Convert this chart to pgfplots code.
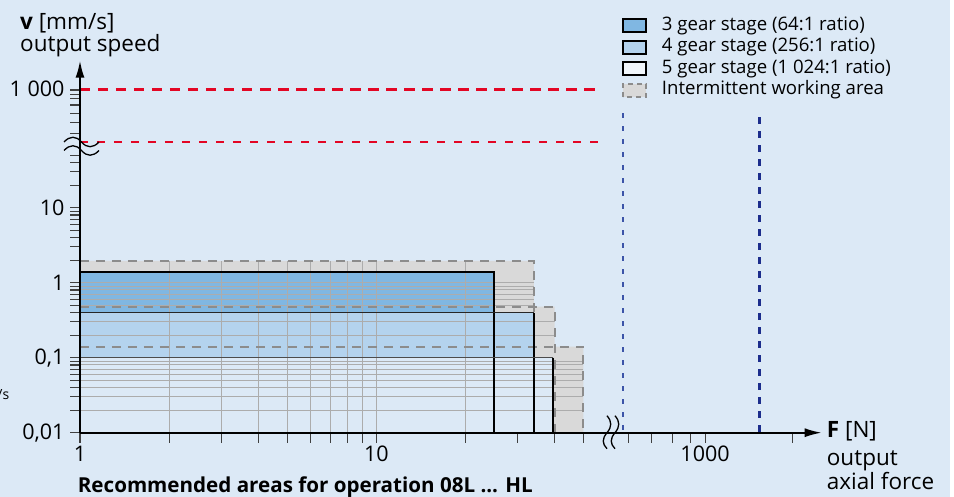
\documentclass[border=0pt]{standalone}
\usepackage{pgfplots}
\pgfplotsset{compat=1.18}
\usepackage{fontspec}
\setmainfont{Open Sans}
\usetikzlibrary{arrows.meta}

\definecolor{bgblue}{RGB}{220,233,246}
\definecolor{gearA}{RGB}{128,183,226}
\definecolor{gearB}{RGB}{180,211,238}
\definecolor{interm}{RGB}{217,217,217}
\definecolor{intermline}{RGB}{140,140,140}
\definecolor{gridc}{RGB}{172,172,172}
\definecolor{redl}{RGB}{227,6,36}
\definecolor{bluethin}{RGB}{60,84,168}
\definecolor{bluethick}{RGB}{28,45,140}

\begin{document}
\begin{tikzpicture}
\fill[bgblue] (-80pt,-64.3pt) rectangle (870pt,432.7pt);
\begin{axis}[
  scale only axis, width=741.7pt, height=372pt,
  xmode=log, ymode=log,
  xmin=1, xmax=318.6, ymin=0.01, ymax=912,
  enlargelimits=false,
  axis lines=left,
  axis on top=true,
  axis line style={line width=1.8pt, -{Latex[length=17pt,width=9pt]}},
  tick align=outside,
  major tick length=10pt, minor tick length=10pt,
  tick style={line width=1.1pt, color=black!75},
  xtick={1,10,128.7}, xticklabels={1,10,1000},
  minor xtick={2,3,4,5,6,7,8,9,20,30,40,50,70.87,85,100.1,115.1,254.3},
  ytick={0.01,0.1,1,10,380}, yticklabels={{0,01},{0,1},1,10,{1 000}},
  minor ytick={0.02,0.03,0.04,0.05,0.06,0.07,0.08,0.09,
    0.2,0.3,0.4,0.5,0.6,0.7,0.8,0.9,2,3,4,5,6,7,8,9,20,30,40,50,
    98,136,181,234,284,325,363},
  ticklabel style={font=\fontsize{21.5}{24}\selectfont},
  yticklabel style={xshift=-2pt},
  legend image code/.code={\draw[#1] (0pt,-6.5pt) rectangle (23pt,6.5pt);},
  legend cell align=left,
  legend style={at={(axis description cs:0.7304,1.1175)}, anchor=north west,
    draw=none, fill=none, inner sep=0pt, row sep=4pt,
    font=\fontsize{18.6}{21}\selectfont,
    nodes={inner sep=0pt, text height=13pt, text depth=4.5pt},
    /tikz/every odd column/.append style={column sep=15pt}},
]
% intermittent working area
\addplot[fill=interm, draw=none, forget plot] coordinates {
  (1,0.01) (1,1.95) (34,1.95) (34,0.48) (40,0.48) (40,0.14) (50,0.14) (50,0.01)} -- cycle;
% continuous areas
\addplot[fill=gearA, draw=none, forget plot] coordinates {(1,0.01) (1,1.4) (25,1.4) (25,0.01)} -- cycle;
\addplot[fill=gearB, draw=none, forget plot] coordinates {(1,0.01) (1,0.4) (34,0.4) (34,0.01)} -- cycle;
\addplot[fill=bgblue, draw=none, forget plot] coordinates {(1,0.01) (1,0.1) (39.6,0.1) (39.6,0.01)} -- cycle;
% grid inside the working area
\pgfplotsinvokeforeach{2,3,4,5,6,7,8,9,10,20}{
  \addplot[gridc, line width=1pt, forget plot] coordinates {(#1,0.01) (#1,1.95)};}
\pgfplotsinvokeforeach{0.02,0.03,0.04,0.05,0.06,0.07,0.08,0.09}{
  \addplot[gridc, line width=1pt, forget plot] coordinates {(1,#1) (50,#1)};}
\pgfplotsinvokeforeach{0.2,0.3}{
  \addplot[gridc, line width=1pt, forget plot] coordinates {(1,#1) (40,#1)};}
\pgfplotsinvokeforeach{0.5,0.6,0.7,0.8,0.9,1}{
  \addplot[gridc, line width=1pt, forget plot] coordinates {(1,#1) (34,#1)};}
% intermittent limits
\addplot[intermline, line width=2pt, dash pattern=on 9pt off 7pt, forget plot] coordinates {(1,1.95) (34,1.95) (34,0.01)};
\addplot[intermline, line width=2pt, dash pattern=on 9pt off 7pt, forget plot] coordinates {(1,0.48) (40,0.48) (40,0.01)};
\addplot[intermline, line width=2pt, dash pattern=on 9pt off 7pt, forget plot] coordinates {(1,0.14) (50,0.14) (50,0.01)};
% continuous limits
\addplot[black, line width=2.2pt, forget plot] coordinates {(1,1.4) (25,1.4) (25,0.01)};
\addplot[black!85, line width=1.6pt, forget plot] coordinates {(1,0.4) (34,0.4)};
\addplot[black, line width=2pt, forget plot] coordinates {(34,0.4) (34,0.01)};
\addplot[black!70, line width=1.3pt, forget plot] coordinates {(1,0.1) (39.6,0.1)};
\addplot[black, line width=2pt, forget plot] coordinates {(39.6,0.1) (39.6,0.01)};
% speed and force limits
\addplot[redl, line width=3pt, dash pattern=on 10.5pt off 7.5pt, forget plot] coordinates {(1,380) (57.5,380)};
\addplot[redl, line width=1.8pt, dash pattern=on 8pt off 9pt, forget plot] coordinates {(1,76) (57.5,76)};
\addplot[bluethin, line width=1.5pt, dash pattern=on 5pt off 8pt, forget plot] coordinates {(67.9,181) (67.9,0.01)};
\addplot[bluethick, line width=3pt, dash pattern=on 7pt off 7pt, forget plot] coordinates {(196.2,160.5) (196.2,0.01)};
% legend
\addlegendimage{fill=gearA, draw=black, line width=2pt}
\addlegendentry{3 gear stage (64:1 ratio)}
\addlegendimage{fill=gearB, draw=black, line width=2pt}
\addlegendentry{4 gear stage (256:1 ratio)}
\addlegendimage{fill=bgblue!40!white, draw=black, line width=2pt}
\addlegendentry{5 gear stage (1 024:1 ratio)}
\addlegendimage{fill=interm, draw=intermline, line width=2pt, dash pattern=on 5pt off 4pt}
\addlegendentry{Intermittent working area}
\end{axis}
% axis breaks
\draw[line width=1.3pt] (-16pt,290.7pt) .. controls (-10pt,297pt) and (-4pt,297pt) .. (1.5pt,290.7pt)
  .. controls (7pt,284.4pt) and (13pt,284.4pt) .. (19pt,290.7pt);
\draw[line width=1.3pt] (-16pt,282.2pt) .. controls (-10pt,288.5pt) and (-4pt,288.5pt) .. (1.5pt,282.2pt)
  .. controls (7pt,275.9pt) and (13pt,275.9pt) .. (19pt,282.2pt);
\draw[line width=1.3pt] (527pt,17pt) .. controls (532pt,11pt) and (532pt,6pt) .. (527pt,0pt)
  .. controls (522pt,-6pt) and (522pt,-11pt) .. (527pt,-16pt);
\draw[line width=1.3pt] (535pt,17pt) .. controls (540pt,11pt) and (540pt,6pt) .. (535pt,0pt)
  .. controls (530pt,-6pt) and (530pt,-11pt) .. (535pt,-16pt);
% axis titles
\node[anchor=base west, inner sep=0pt, font=\fontsize{22.5}{22}\selectfont] at (-60pt,403pt) {\textbf{v} [mm/s]};
\node[anchor=base west, inner sep=0pt, font=\fontsize{22.5}{22}\selectfont] at (-60pt,381pt) {output speed};
\node[anchor=base west, inner sep=0pt, font=\fontsize{22.5}{22}\selectfont] at (746.7pt,-5.3pt) {\textbf{F} [N]};
\node[anchor=base west, inner sep=0pt, font=\fontsize{22.5}{22}\selectfont] at (746.7pt,-33.3pt) {output};
\node[anchor=base west, inner sep=0pt, font=\fontsize{22.5}{22}\selectfont] at (746.7pt,-57pt) {axial force};
\node[anchor=base west, inner sep=0pt, font=\fontsize{20.6}{21}\selectfont\bfseries] at (-2.3pt,-59.5pt) {Recommended areas for operation 08L ... HL};
\node[anchor=base east, inner sep=0pt, font=\fontsize{14}{14}\selectfont] at (-70.5pt,32.7pt) {mm/s};
\pgfresetboundingbox
\path[use as bounding box] (-80pt,-64.3pt) rectangle (874pt,432.7pt);
\end{tikzpicture}
\end{document}
